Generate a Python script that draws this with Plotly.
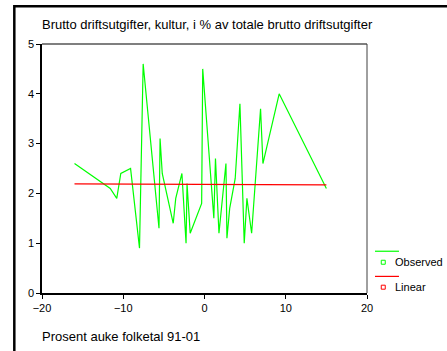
import plotly.graph_objects as go

# Observed values: population growth 1991-2001 (%) vs culture share of gross operating expenses (%)
obs_x = [-16.0, -11.6, -10.8, -10.3, -9.1, -8.0, -7.55, -5.6, -5.47, -5.2, -3.85,
         -3.54, -2.78, -2.27, -2.15, -1.76, -0.35, -0.22, 1.15, 1.35, 1.78, 2.64,
         2.76, 3.1, 3.78, 4.36, 4.89, 5.22, 5.8, 6.9, 7.19, 9.19, 15.0]
obs_y = [2.6, 2.1, 1.9, 2.4, 2.5, 0.9, 4.6, 1.3, 3.1, 2.4, 1.4,
         1.9, 2.4, 1.0, 2.2, 1.2, 1.8, 4.5, 1.5, 2.7, 1.2, 2.6,
         1.1, 1.7, 2.3, 3.8, 1.0, 1.9, 1.2, 3.7, 2.6, 4.0, 2.1]

# Linear fit line (end points)
lin_x = [-16.0, 15.0]
lin_y = [2.19, 2.17]

x_ticks = [-20, -10, 0, 10, 20]
y_ticks = [0, 1, 2, 3, 4, 5]

title_text = "Brutto driftsutgifter, kultur, i % av totale brutto driftsutgifter"
xtitle_text = "Prosent auke folketal 91-01"
legend_names = ["Observed", "Linear"]

GREEN = "#00ff00"
RED = "#ff0000"
FONT = "Arial, Liberation Sans, sans-serif"

fig = go.Figure()
fig.add_trace(go.Scatter(x=obs_x, y=obs_y, mode="lines",
                         line=dict(color=GREEN, width=1.2), name=legend_names[0]))
fig.add_trace(go.Scatter(x=lin_x, y=lin_y, mode="lines",
                         line=dict(color=RED, width=1.2), name=legend_names[1]))

shapes = [
    # plot frame: top (grey) and right (dark grey)
    dict(type="line", xref="paper", yref="paper", x0=0, x1=1, y0=1, y1=1,
         line=dict(color="#7f7f7f", width=2)),
    dict(type="line", xref="paper", yref="paper", x0=1, x1=1, y0=0, y1=1,
         line=dict(color="#404040", width=1)),
    # outer page frame
    dict(type="line", xref="paper", yref="paper", x0=-0.0852, x1=1.25,
         y0=1.152, y1=1.152, line=dict(color="black", width=2.5)),
    dict(type="line", xref="paper", yref="paper", x0=-0.0852, x1=-0.0852,
         y0=-0.25, y1=1.157, line=dict(color="black", width=2.5)),
]

# hand-drawn legend: line sample above, small square marker beside label
annotations = [
    dict(text=title_text, xref="paper", yref="paper", x=-0.007, y=1.08,
         xanchor="left", yanchor="middle", showarrow=False,
         font=dict(family=FONT, size=13, color="black")),
    dict(text=xtitle_text, xref="paper", yref="paper", x=-0.007, y=-0.175,
         xanchor="left", yanchor="middle", showarrow=False,
         font=dict(family=FONT, size=13, color="black")),
]
for i, (name, col) in enumerate(zip(legend_names, [GREEN, RED])):
    yl = 0.1677 - i * 0.101
    ym = 0.1235 - i * 0.1002
    shapes.append(dict(type="line", xref="paper", yref="paper",
                       x0=1.0246, x1=1.0984, y0=yl, y1=yl,
                       line=dict(color=col, width=1.2)))
    shapes.append(dict(type="rect", xref="paper", yref="paper",
                       xsizemode="pixel", ysizemode="pixel",
                       xanchor=1.050, yanchor=ym, x0=-2, x1=2, y0=-2, y1=2,
                       line=dict(color=col, width=1), fillcolor="white"))
    annotations.append(dict(text=name, xref="paper", yref="paper",
                            x=1.0799, y=ym, xanchor="left", yanchor="middle",
                            showarrow=False,
                            font=dict(family=FONT, size=11, color="black")))

fig.update_layout(
    width=447, height=351,
    margin=dict(l=42, r=80, t=44, b=58),
    paper_bgcolor="white", plot_bgcolor="white",
    showlegend=False,
    font=dict(family=FONT, size=11, color="black"),
    shapes=shapes, annotations=annotations,
    xaxis=dict(range=[-20, 20], tickvals=x_ticks, ticks="outside", ticklen=4,
               tickcolor="black", showline=True, linecolor="black", linewidth=1.5,
               showgrid=False, zeroline=False, tickfont=dict(size=11)),
    yaxis=dict(range=[0, 5], tickvals=y_ticks, ticks="outside", ticklen=4,
               tickcolor="black", showline=True, linecolor="black", linewidth=1.5,
               showgrid=False, zeroline=False, tickfont=dict(size=11)),
)

fig.write_html("out.html")
